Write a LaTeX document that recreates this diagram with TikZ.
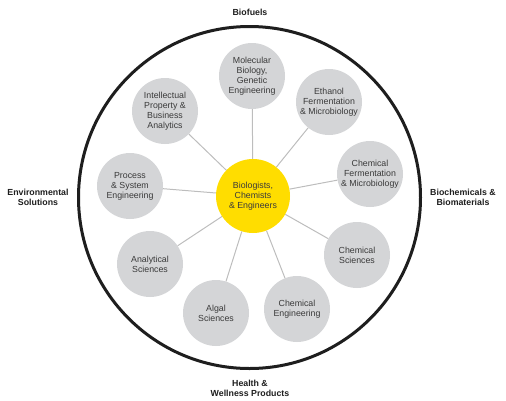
\documentclass[tikz,border=0pt]{standalone}
\usepackage{fontspec}
\setmainfont{Liberation Sans}
\definecolor{ygold}{HTML}{FFDD00}
\definecolor{cgray}{HTML}{D4D5D7}
\definecolor{lgray}{HTML}{BDBDBD}
\definecolor{tgray}{HTML}{3A3A3A}
\definecolor{lblack}{HTML}{1E1E1E}
\begin{document}
\begin{tikzpicture}[x=1pt,y=-1pt,
  topic/.style={circle, fill=cgray, minimum size=66pt, inner sep=0pt, align=center,
    font=\fontsize{8.8}{10}\selectfont, text=tgray},
  hub/.style={circle, fill=ygold, minimum size=74pt, inner sep=0pt, align=center,
    font=\fontsize{8.8}{10}\selectfont, text=tgray},
  link/.style={draw=lgray, line width=1pt},
  area/.style={align=center, font=\bfseries\fontsize{8.8}{10}\selectfont, text=lblack},
  ringstyle/.style={circle, draw=lblack, line width=3pt, minimum size=342pt, inner sep=0pt}]
\useasboundingbox (0,0) rectangle (506,400);
\node[ringstyle] (ring) at (249.5,197.5) {};

\node[hub] (hub) at (253,196) {Biologists,\\Chemists\\\& Engineers};

\node[topic] (mol) at (252,76) {Molecular\\Biology,\\Genetic\\Engineering};
\node[topic] (ip) at (165,111) {Intellectual\\Property \&\\Business\\Analytics};
\node[topic] (eth) at (329,102) {Ethanol\\Fermentation\\\& Microbiology};
\node[topic] (cfm) at (370,174) {Chemical\\Fermentation\\\& Microbiology};
\node[topic] (pse) at (130,186) {Process\\\& System\\Engineering};
\node[topic] (ana) at (150,264) {Analytical\\Sciences};
\node[topic] (alg) at (216,313) {Algal\\Sciences};
\node[topic] (ceng) at (297,309) {Chemical\\Engineering};
\node[topic] (csci) at (357,255) {Chemical\\Sciences};

\foreach \t in {mol,ip,eth,cfm,pse,ana,alg,ceng,csci}
  \draw[link] (hub) -- (\t);

\node[area] (bio) at (250,12) {Biofuels};
\node[area] (env) at (38,197) {Environmental\\Solutions};
\node[area] (bcm) at (463,197) {Biochemicals \&\\Biomaterials};
\node[area] (hw) at (250,388) {Health \&\\Wellness Products};
\end{tikzpicture}
\end{document}
